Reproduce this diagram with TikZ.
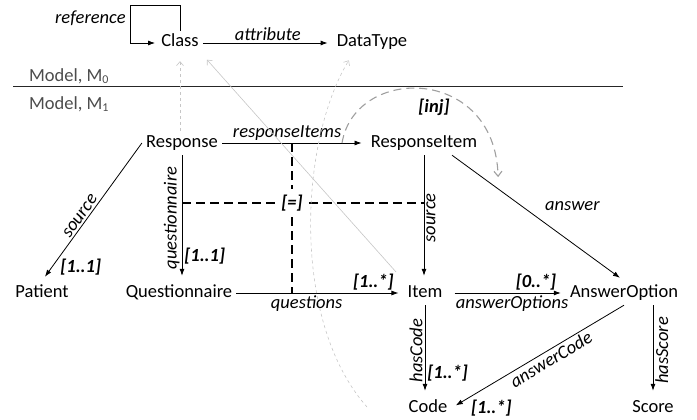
\documentclass[tikz,border=0pt]{standalone}
\usepackage{fontspec}
\setmainfont{Carlito}
\usetikzlibrary{arrows.meta}

\tikzset{
  cls/.style={inner sep=4pt, text height=12pt, text depth=4pt},
  lbl/.style={font=\itshape, inner sep=2pt},
  mult/.style={font=\bfseries\itshape, inner sep=2pt},
  model/.style={text=black!70, inner sep=2pt},
  assoc/.style={draw, line width=0.8pt, shorten >=5pt, -{Latex[length=7pt,width=5pt]}},
  constr/.style={draw, line width=1.2pt, dash pattern=on 9pt off 5pt},
  meta/.style={draw, gray!45, line width=0.6pt, shorten >=6pt, -{Straight Barb[length=4pt,width=7pt]}},
  inj/.style={draw, gray!75, line width=1.1pt, dash pattern=on 8pt off 5pt, shorten >=12pt, -{Straight Barb[length=5pt,width=8pt]}},
}

\begin{document}
\fontsize{18.5}{22}\selectfont
\begin{tikzpicture}[x=1pt,y=-1pt]
\useasboundingbox (0,0) rectangle (697,420);

% level M0
\node[cls] (Class) at (180,43) {Class};
\node[cls] (DataType) at (372,43) {DataType};
\coordinate (refCorner) at (130,5);
\draw[assoc, shorten >=2pt] (Class.north) |- (refCorner) node[lbl, below left, yshift=-3pt, xshift=-2pt] (lRef) {reference} |- (Class.west);
\draw[assoc] (Class) -- node[lbl, above] (lAttr) {attribute} (DataType);

% separator
\node[model] (M0) at (69,76) {Model, M\textsubscript{\large 0}};
\node[model] (M1) at (69,104) {Model, M\textsubscript{\large 1}};
\coordinate (sepL) at (13,86);
\coordinate (sepR) at (623,86);
\draw[line width=0.8pt, black!85] (sepL) -- (sepR);

% level M1
\node[cls] (Resp) at (182,143) {Response};
\node[cls] (RespItem) at (424,143) {ResponseItem};
\node[cls] (Patient) at (42,293) {Patient};
\node[cls] (Quest) at (179,293) {Questionnaire};
\node[cls] (Item) at (425,293) {Item};
\node[cls] (AnsOpt) at (624,293) {AnswerOption};
\node[cls] (Code) at (428,408) {Code};
\node[cls] (Score) at (653,408) {Score};

\draw[assoc] (Resp.east) -- node[lbl, above, pos=0.45] (lRI) {responseItems} coordinate[pos=0.83] (riInj) (RespItem.west);
\draw[assoc] (Resp.west) -- node[lbl, rotate=55, anchor=south, pos=0.56] (lSrcP) {source}
  node[mult, pos=0.9, right=6pt] (mSrcP) {[1..1]} (Patient.north);
\draw[assoc] (Resp.south) -- node[lbl, rotate=90, anchor=south] (lQn) {questionnaire}
  node[mult, pos=0.8, right] (mQn) {[1..1]} (Resp.south |- Quest.north);
\draw[assoc] (Quest.east) -- node[lbl, below, pos=0.42] (lQs) {questions}
  node[mult, above, pos=0.82] (mQI) {[1..*]} (Item.west);
\draw[assoc, shorten <=8pt] (Item.east) -- node[lbl, below, pos=0.55] (lAO) {answerOptions}
  node[mult, above, pos=0.75] (mAO) {[0..*]} (AnsOpt.west);
\draw[assoc] (RespItem.south) -- node[lbl, rotate=90, anchor=north] (lSrcI) {source} (RespItem.south |- Item.north);
\draw[assoc] ([xshift=28pt]RespItem.south) -- node[lbl, pos=0.7, above=30pt] (lAns) {answer}
  coordinate[pos=0.27] (ansInj) (AnsOpt.north);
\draw[assoc] (Item.south) -- node[lbl, rotate=90, anchor=south] (lHC) {hasCode}
  node[mult, pos=0.75, right] (mHC) {[1..*]} (Item.south |- Code.north);
\draw[assoc] (AnsOpt.south) -- node[lbl, rotate=31, anchor=north, pos=0.45] (lAC) {answerCode}
  node[mult, pos=0.9, below right=0pt] (mAC) {[1..*]} (Code.east);
\draw[assoc] (Score.north |- AnsOpt.south) -- node[lbl, rotate=90, anchor=north] (lHS) {hasScore} (Score.north);

% constraint [=]
\node[mult, inner sep=6pt] (Eq) at (292,203) {[=]};
\draw[constr] (Resp.south |- Eq) -- (Eq) -- (RespItem.south |- Eq);
\draw[constr] (Eq |- Resp.east) -- (Eq) -- (Eq |- Quest.east);

% [inj]
\node[mult] (Inj) at (434,107) {[inj]};
\draw[inj] (riInj) .. controls (355,65) and (495,65) .. (ansInj);

% instance-of links
\coordinate (hcFree) at (367,407);
\draw[meta, dashed] (Class.south |- Resp.north) -- (Class.south);
\draw[meta] (mQI.north east) -- (Class.south east);
\draw[meta, dashed] (hcFree) .. controls (290,320) and (300,140) .. ([xshift=-20pt]DataType.south);
\end{tikzpicture}
\end{document}
